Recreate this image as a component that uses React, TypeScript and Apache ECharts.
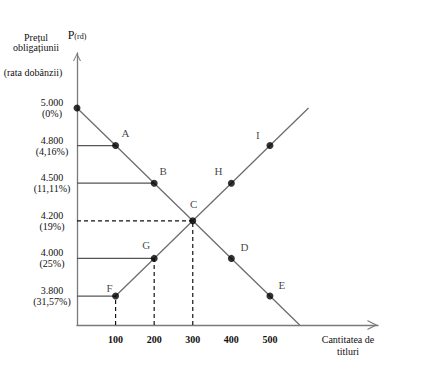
import React, { useEffect, useRef } from 'react';
import * as echarts from 'echarts';

// ---- data ----
const priceLevels = ['3.800', '4.000', '4.200', '4.500', '4.800', '5.000'];
const interestRates = ['31,57%', '25%', '19%', '11,11%', '4,16%', '0%'];
const quantityTicks = [100, 200, 300, 400, 500];

const demandNames = ['A', 'B', 'C', 'D', 'E'];
const demandQuantity = [100, 200, 300, 400, 500];
const demandPrice = ['4.800', '4.500', '4.200', '4.000', '3.800'];
const demandIntercept = { q: 0, p: '5.000' };
const demandAxisCrossingQ = 577;

const supplyNames = ['F', 'G', 'C', 'H', 'I'];
const supplyQuantity = [100, 200, 300, 400, 500];
const supplyPrice = ['3.800', '4.000', '4.200', '4.500', '4.800'];
const supplyEnd = { q: 600, p: '5.000' };

// guide lines: solid/dashed horizontal to the price axis, dashed vertical to quantity axis
const guideHorizontalSolid = ['A', 'B', 'G', 'F'];
const guideHorizontalDashed = ['C'];
const guideVerticalDashed = ['F', 'G', 'C'];

// ---- layout / style ----
const Y_MIN = -0.77;
const Y_MAX = 6.46;
const X_MAX = 780;
const FONT = '"Liberation Serif", "Times New Roman", serif';
const AXIS_COLOR = '#7a7a7a';
const CURVE_COLOR = '#6e6e6e';
const ARROW = 'path://M0,10 L5,0 L10,10 L8.7,10 L5,2.6 L1.3,10 Z';

const labelOffsets: Record<string, [number, number]> = {
  A: [10, -13], B: [9, -12], C: [1, -17], D: [13, -11], E: [12, -11],
  F: [-6, -8], G: [-8, -13], H: [-13, -12], I: [-12, -11],
};

const lvl = (p: string) => priceLevels.indexOf(p);

export default function App() {
  const ref = useRef<HTMLDivElement>(null);
  useEffect(() => {
    document.body.style.margin = '0';
    const chart = echarts.init(ref.current!, undefined, { renderer: 'svg' });

    const pointMap: Record<string, [number, number]> = {};
    demandNames.forEach((n, i) => (pointMap[n] = [demandQuantity[i], lvl(demandPrice[i])]));
    supplyNames.forEach((n, i) => (pointMap[n] = [supplyQuantity[i], lvl(supplyPrice[i])]));

    const demandLine = [
      [demandIntercept.q, lvl(demandIntercept.p)],
      ...demandNames.map((n) => pointMap[n]),
      [demandAxisCrossingQ, Y_MIN],
    ];
    const supplyLine = [...supplyNames.map((n) => pointMap[n]), [supplyEnd.q, lvl(supplyEnd.p)]];

    const guide = (data: number[][], dashed: boolean, color: string) => ({
      type: 'line',
      data,
      showSymbol: false,
      silent: true,
      lineStyle: { color, width: 1.2, type: dashed ? [4, 3] : 'solid' },
      z: 1,
    });

    const series: any[] = [
      {
        type: 'line',
        data: demandLine,
        showSymbol: false,
        lineStyle: { color: CURVE_COLOR, width: 1.3 },
        z: 2,
      },
      {
        type: 'line',
        data: supplyLine,
        showSymbol: false,
        lineStyle: { color: CURVE_COLOR, width: 1.3 },
        z: 2,
      },
    ];
    guideHorizontalSolid.forEach((n) => {
      const [q, l] = pointMap[n];
      series.push(guide([[0, l], [q, l]], false, '#555'));
    });
    guideHorizontalDashed.forEach((n) => {
      const [q, l] = pointMap[n];
      series.push(guide([[0, l], [q, l]], true, '#111'));
    });
    guideVerticalDashed.forEach((n) => {
      const [q, l] = pointMap[n];
      series.push(guide([[q, Y_MIN], [q, l]], true, '#111'));
    });

    const uniqueNames = Array.from(new Set([...demandNames, ...supplyNames]));
    series.push({
      type: 'scatter',
      symbolSize: 7,
      itemStyle: { color: '#000' },
      z: 5,
      data: [
        { value: [demandIntercept.q, lvl(demandIntercept.p)], label: { show: false } },
        ...uniqueNames.map((n) => ({
          value: pointMap[n],
          name: n,
          label: {
            show: true,
            position: 'inside',
            offset: labelOffsets[n],
            formatter: n,
            color: '#111',
            fontFamily: FONT,
            fontSize: 11,
          },
        })),
      ],
    });

    chart.setOption({
      animation: false,
      grid: { left: 77, right: 66, top: 53, bottom: 43, outerBoundsMode: 'none' },
      xAxis: {
        type: 'value',
        min: 0,
        max: X_MAX,
        axisLine: {
          show: true,
          onZero: false,
          lineStyle: { color: AXIS_COLOR, width: 1.3 },
          symbol: ['none', ARROW],
          symbolSize: [10, 11],
          symbolOffset: [0, -5.5],
        },
        axisTick: { show: false },
        splitLine: { show: false },
        axisLabel: {
          customValues: quantityTicks,
          fontFamily: FONT,
          fontSize: 10,
          fontWeight: 'bold',
          color: '#111',
          margin: 9,
        },
        name: 'Cantitatea de\ntitluri',
        nameLocation: 'end',
        nameGap: -30,
        nameTextStyle: {
          fontFamily: FONT,
          fontSize: 10,
          color: '#111',
          align: 'center',
          verticalAlign: 'top',
          lineHeight: 12,
          padding: [8, 0, 0, 0],
        },
      },
      yAxis: {
        type: 'value',
        min: Y_MIN,
        max: Y_MAX,
        axisLine: {
          show: true,
          onZero: false,
          lineStyle: { color: AXIS_COLOR, width: 1.3 },
          symbol: ['none', ARROW],
          symbolSize: [9, 8],
          symbolOffset: [0, -4],
        },
        axisTick: { show: false },
        splitLine: { show: false },
        axisLabel: {
          customValues: [0, 1, 2, 3, 4, 5],
          formatter: (v: number) => {
            const i = Math.round(v);
            return `${priceLevels[i]}\n(${interestRates[i]})`;
          },
          fontFamily: FONT,
          fontSize: 10,
          color: '#111',
          align: 'center',
          margin: 25,
          lineHeight: 11,
          padding: [0, 0, 11, 0],
        },
        name: '{p|P}{s|(rd)}',
        nameLocation: 'end',
        nameGap: 12,
        nameTextStyle: {
          rich: {
            p: { fontFamily: FONT, fontSize: 12, color: '#111' },
            s: { fontFamily: FONT, fontSize: 8, color: '#111', padding: [3, 0, 0, 0] },
          },
        },
      },
      graphic: [
        {
          type: 'text',
          x: 36,
          y: 32,
          style: {
            text: 'Prețul\nobligațiunii',
            font: `10px ${FONT}`,
            fill: '#111',
            align: 'center',
            lineHeight: 10,
          },
        },
        {
          type: 'text',
          x: 33,
          y: 67,
          style: {
            text: '(rata dobânzii)',
            font: `10px ${FONT}`,
            fill: '#111',
            align: 'center',
          },
        },
      ],
      series,
    });
    return () => chart.dispose();
  }, []);
  return <div ref={ref} style={{ width: 444, height: 368 }} />;
}
